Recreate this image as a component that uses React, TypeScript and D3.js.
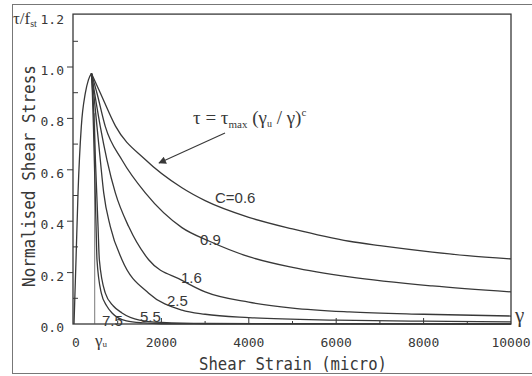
import React, { useEffect, useRef } from 'react';
import * as d3 from 'd3';

// points: [shear strain (micro), normalised shear stress]
const rising: [number, number][] = [
    [0, 0], [15, 0.08], [46, 0.25], [92, 0.51], [167, 0.768], [259, 0.898], [330, 0.95], [400, 0.975],
];
const c06: [number, number][] = [
    [400, 0.975], [600, 0.9], [950, 0.77], [1630, 0.64], [2470, 0.53], [3000, 0.48], [4000, 0.415],
    [5000, 0.37], [6300, 0.322], [7000, 0.305], [8200, 0.28], [9000, 0.266], [10000, 0.253],
];
const c09: [number, number][] = [
    [400, 0.975], [526, 0.898], [717, 0.768], [1098, 0.638], [1632, 0.51], [2470, 0.375], [3100, 0.322],
    [4000, 0.262], [5000, 0.22], [6300, 0.183], [8200, 0.148], [10000, 0.125],
];
const c16: [number, number][] = [
    [400, 0.975], [470, 0.9], [602, 0.768], [755, 0.638], [946, 0.51], [1251, 0.379], [1709, 0.25],
    [2471, 0.17], [3000, 0.125], [4000, 0.085], [5000, 0.062], [6300, 0.047], [8000, 0.038], [10000, 0.031],
];
const c25: [number, number][] = [
    [400, 0.975], [450, 0.9], [526, 0.768], [602, 0.638], [680, 0.51], [831, 0.379], [1098, 0.25],
    [1709, 0.12], [2471, 0.054], [3000, 0.038], [4000, 0.025], [6000, 0.015], [8000, 0.011], [10000, 0.008],
];
const c55: [number, number][] = [
    [400, 0.975], [430, 0.9], [465, 0.768], [490, 0.638], [520, 0.51], [550, 0.379], [580, 0.25],
    [717, 0.12], [900, 0.07], [1098, 0.043], [1500, 0.015], [2000, 0.006], [3000, 0.002], [10000, 0],
];
const c75: [number, number][] = [
    [400, 0.975], [420, 0.9], [445, 0.768], [465, 0.638], [485, 0.51], [505, 0.379], [526, 0.25],
    [625, 0.12], [750, 0.07], [870, 0.043], [1200, 0.012], [1600, 0.004], [2000, 0.001], [10000, 0],
];

const curveSets = [c06, c09, c16, c25, c55, c75];
const curveNames = ['C=0.6', '0.9', '1.6', '2.5', '5.5', '7.5'];
// where each name sits, in data units (left edge, baseline)
const nameAt: [number, number][] = [
    [3227, 0.471], [2883, 0.307], [2448, 0.16], [2128, 0.07], [1510, 0.008], [641, -0.008],
];

const xTicks = [0, 2000, 4000, 6000, 8000, 10000];
const yTicks = [0, 0.2, 0.4, 0.6, 0.8, 1.0, 1.2];
const gammaU = 474;

const App = () => {
    const svgRef = useRef<SVGSVGElement>(null);

    useEffect(() => {
        const svg = d3.select(svgRef.current);
        svg.selectAll('*').remove();

        const width = 532;
        const height = 376;
        const ink = '#383838';
        const mono = '"DejaVu Sans Mono", monospace';
        const serif = '"Liberation Serif", "DejaVu Serif", serif';

        const x = d3.scaleLinear().domain([0, 10000]).range([74, 511]);
        const y = d3.scaleLinear().domain([0, 1.2]).range([324, 15.6]);

        svg.attr('width', width).attr('height', height);

        svg.append('rect').attr('width', width).attr('height', height).attr('fill', '#fff');

        // scan frame
        svg.append('rect')
            .attr('x', 12.5).attr('y', 4.5)
            .attr('width', 530).attr('height', 369)
            .attr('fill', 'none').attr('stroke', '#777').attr('stroke-width', 1);

        // plot box
        svg.append('rect')
            .attr('x', x(0) - 1).attr('y', y(1.2) - 1.5)
            .attr('width', x(10000) - x(0) + 1).attr('height', y(0) - y(1.2) + 1.5)
            .attr('fill', 'none').attr('stroke', ink).attr('stroke-width', 1.3);

        // y ticks: major out, minor in
        const yMinor = d3.range(0.1, 1.2, 0.2);
        svg.append('g').selectAll('line').data(yTicks.slice(1, -1)).join('line')
            .attr('x1', x(0) - 7).attr('x2', x(0) - 1)
            .attr('y1', d => y(d)).attr('y2', d => y(d))
            .attr('stroke', ink).attr('stroke-width', 1);
        svg.append('g').selectAll('line').data(yMinor).join('line')
            .attr('x1', x(0) - 1).attr('x2', x(0) + 4)
            .attr('y1', d => y(d)).attr('y2', d => y(d))
            .attr('stroke', ink).attr('stroke-width', 1);

        // x ticks, pointing up
        const xMinor = d3.range(1000, 10000, 2000);
        svg.append('g').selectAll('line').data(xTicks.slice(1, -1)).join('line')
            .attr('x1', d => x(d)).attr('x2', d => x(d))
            .attr('y1', y(0)).attr('y2', y(0) - 6)
            .attr('stroke', ink).attr('stroke-width', 1);
        svg.append('g').selectAll('line').data(xMinor).join('line')
            .attr('x1', d => x(d)).attr('x2', d => x(d))
            .attr('y1', y(0)).attr('y2', y(0) - 3)
            .attr('stroke', ink).attr('stroke-width', 1);

        // tick labels
        svg.append('g').selectAll('text').data(yTicks).join('text')
            .attr('x', 64).attr('y', d => y(d) + 8)
            .attr('text-anchor', 'end')
            .attr('font-family', mono).attr('font-size', 13).attr('fill', ink)
            .text(d => d3.format('.1f')(d));
        svg.append('g').selectAll('text').data(xTicks).join('text')
            .attr('x', d => (d === 0 ? x(d) + 2 : x(d))).attr('y', 347)
            .attr('text-anchor', 'middle')
            .attr('font-family', mono).attr('font-size', 13).attr('fill', ink)
            .text(d => String(d));

        // axis titles
        svg.append('text')
            .attr('x', 199).attr('y', 370)
            .attr('font-family', mono).attr('font-size', 17).attr('fill', ink)
            .attr('textLength', 188).attr('lengthAdjust', 'spacingAndGlyphs')
            .text('Shear Strain (micro)');
        svg.append('text')
            .attr('transform', 'translate(35,176) rotate(-90)')
            .attr('text-anchor', 'middle')
            .attr('font-family', mono).attr('font-size', 17).attr('fill', ink)
            .attr('textLength', 222).attr('lengthAdjust', 'spacingAndGlyphs')
            .text('Normalised Shear Stress');

        // tau/f_st beside the 1.2 label
        const tl = svg.append('text')
            .attr('x', 13).attr('y', 24)
            .attr('font-family', serif).attr('font-size', 17).attr('fill', ink);
        tl.append('tspan').text('τ/f');
        tl.append('tspan').attr('font-size', 10).attr('dy', 3).text('st');

        // gamma at the end of the x axis
        svg.append('text')
            .attr('x', 515).attr('y', 322)
            .attr('font-family', serif).attr('font-size', 21).attr('fill', ink)
            .text('γ');

        // gamma_u marker
        svg.append('line')
            .attr('x1', x(gammaU)).attr('x2', x(gammaU))
            .attr('y1', y(0)).attr('y2', y(0.82))
            .attr('stroke', '#555').attr('stroke-width', 0.8);
        const gu = svg.append('text')
            .attr('x', 95).attr('y', 346)
            .attr('font-family', serif).attr('font-size', 17).attr('fill', ink);
        gu.append('tspan').text('γ');
        gu.append('tspan').attr('font-size', 9).attr('dy', 1).text('u');

        // curves
        const line = d3.line<[number, number]>()
            .x(d => x(d[0]))
            .y(d => y(d[1]))
            .curve(d3.curveMonotoneX);

        svg.append('path')
            .datum(rising)
            .attr('d', line)
            .attr('fill', 'none').attr('stroke', ink).attr('stroke-width', 1.3);

        svg.append('g').selectAll('path').data(curveSets).join('path')
            .attr('d', d => line(d))
            .attr('fill', 'none').attr('stroke', ink).attr('stroke-width', 1.3);

        svg.append('g').selectAll('text').data(curveNames).join('text')
            .attr('x', (d, i) => x(nameAt[i][0]))
            .attr('y', (d, i) => y(nameAt[i][1]))
            .attr('font-family', '"Liberation Sans", Arial, sans-serif')
            .attr('font-size', 15).attr('fill', ink)
            .text(d => d);

        // formula and arrow
        const f = svg.append('text')
            .attr('x', 193).attr('y', 124)
            .attr('font-family', serif).attr('font-size', 19).attr('fill', ink);
        f.append('tspan').text('τ = τ');
        f.append('tspan').attr('font-size', 11).attr('dy', 4).text('max');
        f.append('tspan').attr('dy', -4).text(' (γ');
        f.append('tspan').attr('font-size', 10).attr('dy', 3).text('u');
        f.append('tspan').attr('dy', -3).text(' / γ)');
        f.append('tspan').attr('font-size', 11).attr('dy', -8).text('c');

        const defs = svg.append('defs');
        defs.append('marker')
            .attr('id', 'head')
            .attr('viewBox', '0 0 10 10')
            .attr('refX', 9).attr('refY', 5)
            .attr('markerWidth', 9).attr('markerHeight', 7)
            .attr('orient', 'auto')
            .append('path')
            .attr('d', 'M0,0L10,5L0,10z')
            .attr('fill', ink);

        svg.append('line')
            .attr('x1', 225).attr('y1', 133)
            .attr('x2', 159).attr('y2', 163)
            .attr('stroke', ink).attr('stroke-width', 1.1)
            .attr('marker-end', 'url(#head)');
    }, []);

    return (
        <div style={{ position: 'absolute', left: 0, top: 0 }}>
            <svg ref={svgRef}></svg>
        </div>
    );
};

export default App;
